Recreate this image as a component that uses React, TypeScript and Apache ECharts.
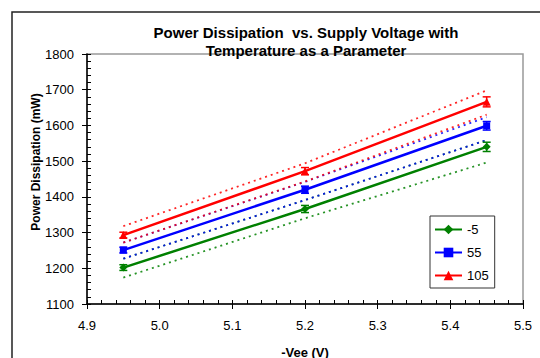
import React, { useEffect, useRef } from "react";
import * as echarts from "echarts";

const voltages = [4.95, 5.2, 5.45];
const seriesNames = ["-5", "55", "105"];
const seriesColors = ["#008000", "#0000FF", "#FF0000"];
const seriesSymbols = ["diamond", "rect", "triangle"];
const powerMinus5 = [1202, 1366, 1540];
const power55 = [1251, 1420, 1599];
const power105 = [1293, 1472, 1666];
const errMinus5 = [8, 10, 13];
const err55 = [8, 10, 12];
const err105 = [8, 10, 14];
const upperMinus5 = [1227, 1391, 1559];
const lowerMinus5 = [1174, 1340, 1496];
const upper55 = [1272, 1442, 1623];
const lower55 = [1227, 1391, 1559];
const upper105 = [1318, 1494, 1698];
const lower105 = [1272, 1443, 1630];
const yTicks = [1100, 1200, 1300, 1400, 1500, 1600, 1700, 1800];
const xTicks = [4.9, 5.0, 5.1, 5.2, 5.3, 5.4, 5.5];

const FONT = '"Liberation Sans", Arial, sans-serif';

export default function App() {
  const ref = useRef<HTMLDivElement>(null);
  useEffect(() => {
    document.body.style.margin = "0";
    if (!ref.current) return;
    const chart = echarts.init(ref.current, null, { renderer: "svg" });
    const mains = [powerMinus5, power55, power105];
    const errs = [errMinus5, err55, err105];
    const bounds = [
      [upperMinus5, lowerMinus5],
      [upper55, lower55],
      [upper105, lower105],
    ];
    const series: any[] = [];
    bounds.forEach((pair, i) => {
      pair.forEach((arr, j) => {
        series.push({
          name: seriesNames[i] + (j === 0 ? " upper" : " lower"),
          type: "line",
          data: voltages.map((v, k) => [v, arr[k]]),
          showSymbol: false,
          symbol: "none",
          lineStyle: { color: seriesColors[i], width: 1.8, type: [2, 4], opacity: 0.85 },
          silent: true,
          z: 2,
        });
      });
    });
    mains.forEach((arr, i) => {
      series.push({
        name: seriesNames[i],
        type: "line",
        data: voltages.map((v, k) => [v, arr[k]]),
        symbol: seriesSymbols[i],
        symbolSize: i === 1 ? 7 : 8,
        itemStyle: { color: seriesColors[i] },
        lineStyle: { color: seriesColors[i], width: 2.5 },
        z: 4,
      });
      series.push({
        name: seriesNames[i] + " err",
        type: "custom",
        data: voltages.map((v, k) => [v, arr[k] - errs[i][k], arr[k] + errs[i][k]]),
        renderItem: (params: any, api: any) => {
          const lo = api.coord([api.value(0), api.value(1)]);
          const hi = api.coord([api.value(0), api.value(2)]);
          const w = 4;
          const st = { stroke: seriesColors[i], lineWidth: 1.5 };
          return {
            type: "group",
            children: [
              { type: "line", shape: { x1: lo[0], y1: lo[1], x2: hi[0], y2: hi[1] }, style: st },
              { type: "line", shape: { x1: lo[0] - w, y1: lo[1], x2: lo[0] + w, y2: lo[1] }, style: st },
              { type: "line", shape: { x1: hi[0] - w, y1: hi[1], x2: hi[0] + w, y2: hi[1] }, style: st },
            ],
          };
        },
        z: 5,
      });
    });

    chart.setOption({
      animation: false,
      grid: {
        left: 87,
        top: 54,
        right: 17,
        bottom: 54,
        show: true,
        borderColor: "#999",
        borderWidth: 1.5,
        backgroundColor: "transparent",
      },
      legend: {
        data: seriesNames,
        orient: "vertical",
        left: 430,
        top: 216,
        itemWidth: 27,
        itemHeight: 12,
        itemGap: 10,
        padding: [7, 6, 6, 4],
        borderColor: "#333",
        borderWidth: 1,
        backgroundColor: "#fff",
        textStyle: { fontFamily: FONT, fontSize: 13, color: "#000" },
      },
      xAxis: [
        {
          type: "value",
          min: 4.9,
          max: 5.5,
          interval: 0.1,
          splitLine: { show: false },
          axisLine: { lineStyle: { color: "#000", width: 1.5 } },
          axisTick: { inside: false, length: 5, lineStyle: { color: "#000" } },
          axisLabel: {
            fontFamily: FONT,
            fontSize: 13,
            color: "#000",
            margin: 15,
            formatter: (v: number) => {
              const t = xTicks.find((x) => Math.abs(x - v) < 1e-6);
              return t !== undefined ? t.toFixed(1) : "";
            },
          },
        },
        {
          type: "value",
          position: "bottom",
          offset: 0,
          min: 4.9,
          max: 5.5,
          interval: 0.02,
          splitLine: { show: false },
          axisLine: { show: false },
          axisTick: { inside: true, length: 4, lineStyle: { color: "#000" } },
          axisLabel: { show: false },
        },
      ],
      yAxis: [
        {
          type: "value",
          min: 1100,
          max: 1800,
          interval: 100,
          splitLine: { show: false },
          axisLine: { show: true, lineStyle: { color: "#000", width: 1.5 } },
          axisTick: { show: true, inside: false, length: 5, lineStyle: { color: "#000" } },
          axisLabel: {
            fontFamily: FONT,
            fontSize: 13,
            color: "#000",
            margin: 13,
            formatter: (v: number) => {
              const t = yTicks.find((y) => Math.abs(y - v) < 1e-6);
              return t !== undefined ? String(t) : "";
            },
          },
        },
        {
          type: "value",
          position: "left",
          offset: 0,
          min: 1100,
          max: 1800,
          interval: 20,
          splitLine: { show: false },
          axisLine: { show: false },
          axisTick: { show: true, inside: true, length: 4, lineStyle: { color: "#000" } },
          axisLabel: { show: false },
        },
      ],
      graphic: [
        {
          type: "rect",
          shape: { x: 12, y: 12, width: 700, height: 500 },
          style: { fill: "none", stroke: "#222", lineWidth: 1.5 },
          silent: true,
          z: -10,
        },
        {
          type: "text",
          x: 306,
          y: 32,
          style: {
            text: "Power Dissipation  vs. Supply Voltage with",
            font: "bold 15px " + FONT,
            textAlign: "center",
            textVerticalAlign: "middle",
            align: "center",
            verticalAlign: "middle",
            fill: "#000",
          },
        },
        {
          type: "text",
          x: 306,
          y: 50,
          style: {
            text: "Temperature as a Parameter",
            font: "bold 15px " + FONT,
            textAlign: "center",
            textVerticalAlign: "middle",
            align: "center",
            verticalAlign: "middle",
            fill: "#000",
          },
        },
        {
          type: "text",
          x: 36,
          y: 162,
          rotation: Math.PI / 2,
          style: {
            text: "Power Dissipation (mW)",
            font: "bold 12px " + FONT,
            textAlign: "center",
            textVerticalAlign: "middle",
            align: "center",
            verticalAlign: "middle",
            fill: "#000",
          },
        },
        {
          type: "text",
          x: 305,
          y: 352,
          style: {
            text: "-Vee (V)",
            font: "bold 13px " + FONT,
            textAlign: "center",
            textVerticalAlign: "middle",
            align: "center",
            verticalAlign: "middle",
            fill: "#000",
          },
        },
      ],
      series,
    });
    return () => chart.dispose();
  }, []);
  return <div ref={ref} style={{ width: 540, height: 358 }} />;
}
